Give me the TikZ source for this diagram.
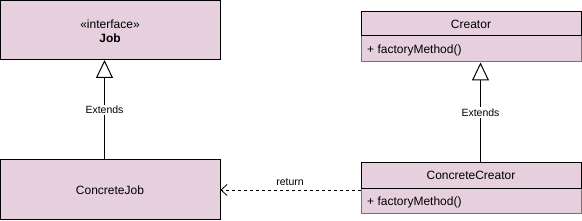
\documentclass[tikz,border=0pt]{standalone}
\usepackage{fontspec}
\setmainfont{Liberation Sans}
\usetikzlibrary{arrows.meta}
\definecolor{umlfill}{HTML}{E6D0DE}
\definecolor{umlgray}{RGB}{125,110,118}
\begin{document}
\begin{tikzpicture}[x=1pt,y=-1pt,
  box/.style={draw=black,fill=umlfill,line width=1pt},
  subbox/.style={draw=umlgray,fill=umlfill,line width=1pt},
  txt/.style={font=\fontsize{12}{14}\selectfont,inner sep=0pt},
  lbl/.style={font=\fontsize{10.5}{12}\selectfont,inner sep=1.5pt,fill=white},
  ext/.style={draw=black,line width=1pt,-{Triangle[open,length=18pt,width=17pt]}},
  ret/.style={draw=black,line width=0.8pt,dashed,dash pattern=on 3pt off 3pt,-{Straight Barb[length=6pt,width=11pt]}}]
\useasboundingbox (0,0) rectangle (582,221);
% Job
\draw[box] (0.5,0.5) rectangle (220,60);
\coordinate (jobB) at (104.5,60);
\node[txt] (jobI) at (110,24) {«interface»};
\node[txt,font=\fontsize{12}{14}\selectfont\bfseries] (jobN) at (110,38) {Job};
% Creator
\draw[subbox] (361,36) rectangle (581,62);
\draw[box] (361,11.5) rectangle (581,36);
\node[txt] (cre) at (471,24) {Creator};
\node[txt,anchor=west] (creM) at (367,50) {+ factoryMethod()};
\coordinate (creB) at (480.5,62.5);
% ConcreteJob
\draw[box] (0.5,160) rectangle (220,220);
\node[txt] (cj) at (110,190) {ConcreteJob};
\coordinate (cjT) at (104.5,160);
\coordinate (cjR) at (220.5,190);
% ConcreteCreator
\draw[subbox] (361,188.5) rectangle (581,214);
\draw[box] (361,162.5) rectangle (581,188.5);
\node[txt] (cc) at (471,175.5) {ConcreteCreator};
\node[txt,anchor=west] (ccM) at (367,202) {+ factoryMethod()};
\coordinate (ccT) at (480.5,162.5);
\coordinate (ccL) at (360.5,190);
% connectors
\draw[ext] (cjT) -- (jobB) node[lbl,pos=0.5] {Extends};
\draw[ext] (ccT) -- (creB) node[lbl,pos=0.5] {Extends};
\draw[ret] (ccL) -- (cjR);
\node[font=\fontsize{10.5}{12}\selectfont,inner sep=0pt] (retl) at (290,182) {return};
\end{tikzpicture}
\end{document}
